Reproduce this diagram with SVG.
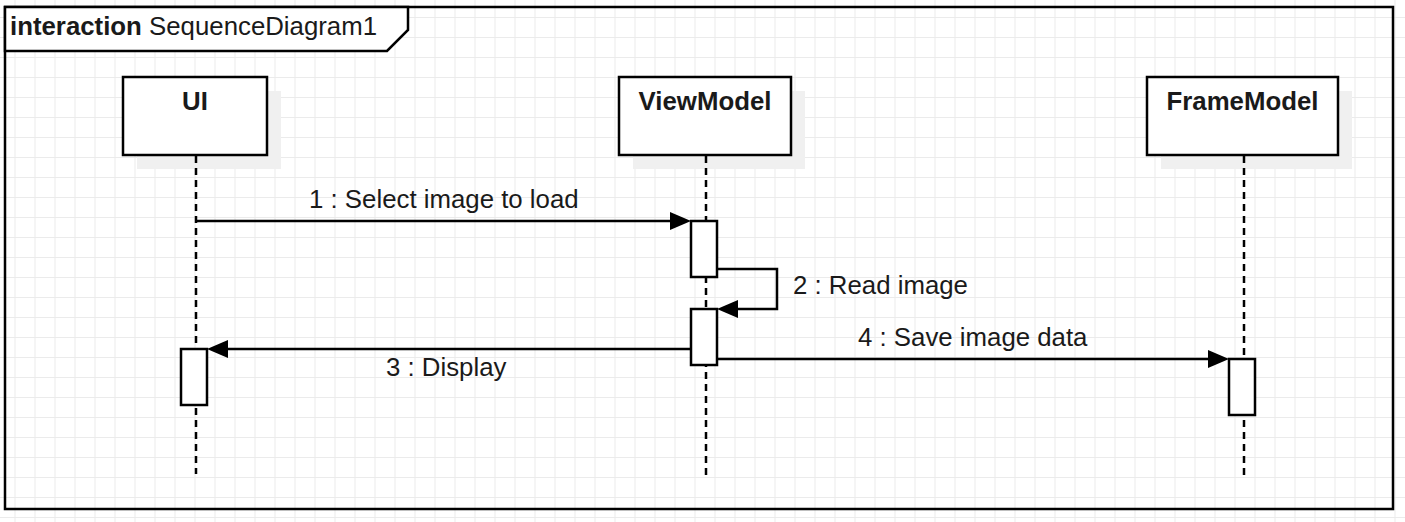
<svg xmlns="http://www.w3.org/2000/svg" width="1405" height="522" viewBox="0 0 1405 522">
  <style>
    text { font-family: "Liberation Sans", Arial, sans-serif; font-size: 25.8px; fill: #1a1a1a; }
    .bold { font-weight: bold; }
    .box { fill: #ffffff; stroke: #000000; stroke-width: 2.5; }
    .shadow { fill: #f0f0f0; stroke: none; }
    .life { stroke: #000000; stroke-width: 2.5; stroke-dasharray: 7 5; fill: none; }
    .act { fill: #ffffff; stroke: #000000; stroke-width: 2.5; }
    .msg { stroke: #000000; stroke-width: 2.5; fill: none; }
    .head { fill: #000000; stroke: none; }
    .frame { fill: none; stroke: #000000; stroke-width: 2.5; }
  </style>
  <defs>
    <pattern id="grid" patternUnits="userSpaceOnUse" x="0" y="0" width="20" height="20">
      <rect x="14.5" y="0" width="1" height="20" fill="#ebebeb"/>
      <rect x="0" y="17" width="20" height="1" fill="#ebebeb"/>
    </pattern>
  </defs>

  <rect x="0" y="0" width="1405" height="522" fill="#ffffff"/>
  <rect x="0" y="0" width="1405" height="522" fill="url(#grid)"/>

  <g id="frame">
    <rect class="frame" x="5" y="7" width="1388" height="502"/>
    <path d="M5 7 H408 V30 L387 51 H5 Z" fill="#ffffff" stroke="#000000" stroke-width="2.5"/>
    <text x="10" y="35"><tspan class="bold">interaction</tspan> SequenceDiagram1</text>
  </g>

  <g id="node-ui">
    <rect class="shadow" x="137" y="91" width="144" height="78"/>
    <line class="life" x1="196" y1="156" x2="196" y2="474"/>
    <rect class="box" x="123" y="77" width="144" height="78"/>
    <text class="bold" x="195" y="110" text-anchor="middle">UI</text>
    <rect class="act" x="181" y="349" width="26" height="56"/>
  </g>

  <g id="node-viewmodel">
    <rect class="shadow" x="633" y="91" width="172" height="78"/>
    <line class="life" x1="706" y1="156" x2="706" y2="475"/>
    <rect class="box" x="619" y="77" width="172" height="78"/>
    <text class="bold" x="705" y="110" text-anchor="middle">ViewModel</text>
    <rect class="act" x="691" y="221" width="26" height="56"/>
    <rect class="act" x="691" y="309" width="26" height="56"/>
  </g>

  <g id="node-framemodel">
    <rect class="shadow" x="1161" y="91" width="191" height="78"/>
    <line class="life" x1="1244" y1="156" x2="1244" y2="475"/>
    <rect class="box" x="1147" y="77" width="191" height="78"/>
    <text class="bold" x="1242.5" y="110" text-anchor="middle">FrameModel</text>
    <rect class="act" x="1229" y="359" width="26" height="56"/>
  </g>

  <g id="connectors">
    <line class="msg" x1="196" y1="221" x2="672" y2="221"/>
    <polygon class="head" points="691,221 670,212 670,230"/>
    <text x="309" y="208">1 : Select image to load</text>

    <polyline class="msg" points="717,269 777,269 777,309 736,309"/>
    <polygon class="head" points="717,309 738,300 738,318"/>
    <text x="793" y="294">2 : Read image</text>

    <line class="msg" x1="691" y1="349" x2="226" y2="349"/>
    <polygon class="head" points="207,349 228,340 228,358"/>
    <text x="386" y="376">3 : Display</text>

    <line class="msg" x1="717" y1="359" x2="1210" y2="359"/>
    <polygon class="head" points="1229,359 1208,350 1208,368"/>
    <text x="858" y="346">4 : Save image data</text>
  </g>
</svg>
